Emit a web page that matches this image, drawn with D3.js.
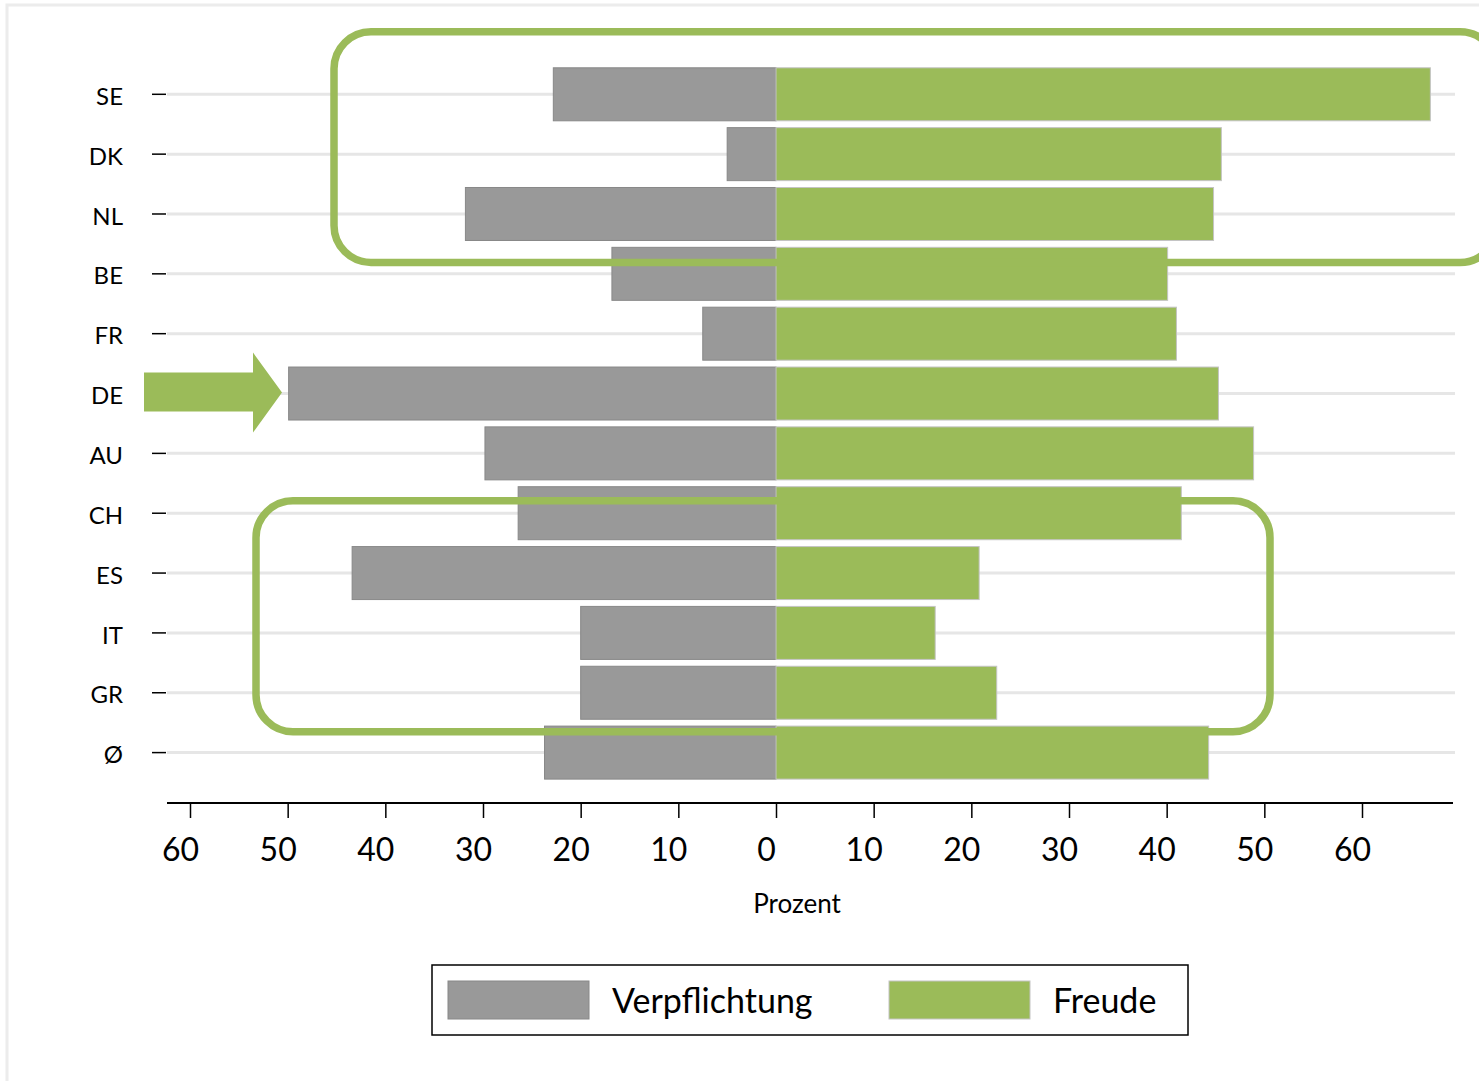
<!DOCTYPE html>
<html><head><meta charset="utf-8">
<script src="https://cdn.jsdelivr.net/npm/d3@7"></script>
<style>
html,body{margin:0;padding:0;background:#fff;}
svg{display:block;font-family:Lato,"Open Sans",sans-serif;}
</style></head>
<body>
<svg id="chart" width="1479" height="1081"></svg>
<script>
const categories = ["SE","DK","NL","BE","FR","DE","AU","CH","ES","IT","GR","Ø"];
const verpflichtung = [22.8, 5.0, 31.8, 16.8, 7.5, 49.9, 29.8, 26.4, 43.4, 20.0, 20.0, 23.7];
const freude = [67.0, 45.6, 44.8, 40.1, 41.0, 45.3, 48.9, 41.5, 20.8, 16.3, 22.6, 44.3];
const xTicks = [-60,-50,-40,-30,-20,-10,0,10,20,30,40,50,60];
const seriesNames = ["Verpflichtung","Freude"];
const colors = ["#999999","#9bbb59"];
const highlightTop = ["SE","NL"];
const highlightBottom = ["CH","GR"];
const arrowRow = "DE";

const svg = d3.select("#chart");
const x = d3.scaleLinear().domain([-60,60]).range([190,1362]);
const y = d3.scalePoint().domain(categories).range([94.3,752.6]);
const barH = 53;

// outer frame
svg.append("path").attr("d","M7,1081 L7,5 L1479,5").attr("fill","none").attr("stroke","#ececec").attr("stroke-width",3);

// gridlines
svg.append("g").selectAll("line").data(categories).join("line")
  .attr("x1",167).attr("x2",1455).attr("y1",d=>y(d)).attr("y2",d=>y(d))
  .attr("stroke","#e6e6e6").attr("stroke-width",3);

// y ticks
svg.append("g").selectAll("line").data(categories).join("line")
  .attr("x1",152).attr("x2",166).attr("y1",d=>y(d)).attr("y2",d=>y(d))
  .attr("stroke","#000").attr("stroke-width",1.5);
svg.append("g").selectAll("text").data(categories).join("text")
  .attr("x",123).attr("y",d=>y(d)+2).attr("dy","0.36em")
  .attr("text-anchor","end").attr("font-size",24).attr("fill","#000").text(d=>d);

// bars
const rows = categories.map((c,i)=>({c, v:verpflichtung[i], f:freude[i]}));
svg.append("g").selectAll("rect").data(rows).join("rect")
  .attr("x",d=>x(-d.v)).attr("width",d=>x(0)-x(-d.v))
  .attr("y",d=>y(d.c)-barH/2).attr("height",barH)
  .attr("fill",colors[0]).attr("stroke","#888").attr("stroke-width",1);
svg.append("g").selectAll("rect").data(rows).join("rect")
  .attr("x",x(0)).attr("width",d=>x(d.f)-x(0))
  .attr("y",d=>y(d.c)-barH/2).attr("height",barH)
  .attr("fill",colors[1]).attr("stroke","#c4c4c4").attr("stroke-width",1);

// x axis
svg.append("line").attr("x1",167).attr("x2",1453).attr("y1",803).attr("y2",803)
  .attr("stroke","#000").attr("stroke-width",2);
const xa = svg.append("g").attr("transform","translate(0,803)")
  .call(d3.axisBottom(x).tickValues(xTicks).tickSize(15).tickFormat(d=>Math.abs(d)));
xa.select(".domain").remove();
xa.selectAll(".tick line").attr("stroke","#000").attr("stroke-width",1.5);
xa.selectAll(".tick text").attr("font-size",32).attr("font-family","Lato,sans-serif")
  .attr("fill","#000").attr("dx",-10).attr("y",35).attr("dy","0.71em");

svg.append("text").attr("x",797).attr("y",913).attr("text-anchor","middle")
  .attr("font-size",26).attr("fill","#000").text("Prozent");

// highlight rounded rectangles
function hl(cats, x0, x1, topOff, botOff){
  const y0 = y(cats[0]) - topOff, y1 = y(cats[1]) + botOff;
  svg.append("rect").attr("x",x0).attr("y",y0).attr("width",x1-x0).attr("height",y1-y0)
    .attr("rx",37).attr("ry",37).attr("fill","none").attr("stroke",colors[1]).attr("stroke-width",7.5);
}
hl(highlightTop, 334, 1497, 62.5, 48.5);
hl(highlightBottom, 256, 1270, 12.5, 39);

// arrow
const ay = y(arrowRow);
const arrow = [[144,ay-21],[253,ay-21],[253,ay-41],[282,ay-1],[253,ay+39],[253,ay+18],[144,ay+18]];
svg.append("polygon").attr("points",arrow.map(p=>p.join(",")).join(" ")).attr("fill",colors[1]);

// legend
const lg = svg.append("g");
lg.append("rect").attr("x",432).attr("y",965).attr("width",756).attr("height",70)
  .attr("fill","#fff").attr("stroke","#000").attr("stroke-width",1.5);
const lx = [448, 889];
seriesNames.forEach((n,i)=>{
  lg.append("rect").attr("x",lx[i]).attr("y",981).attr("width",141).attr("height",38)
    .attr("fill",colors[i]).attr("stroke",i===0?"#888":"#c4c4c4").attr("stroke-width",1);
  lg.append("text").attr("x",lx[i]+164).attr("y",1001).attr("dy","0.36em")
    .attr("font-size",34).attr("fill","#000").text(n);
});
</script>
</body></html>
